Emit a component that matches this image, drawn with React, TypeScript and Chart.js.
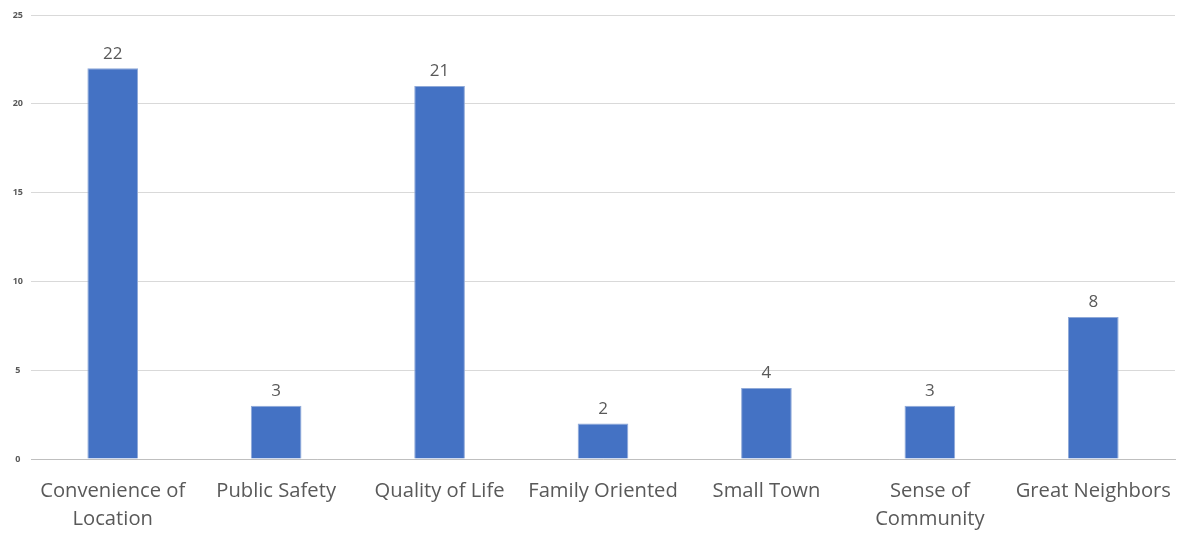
import React, { useEffect, useRef } from "react";
import { Chart, registerables } from "chart.js";

Chart.register(...registerables);

const categories: (string | string[])[] = [
  ["Convenience of", "Location"],
  "Public Safety",
  "Quality of Life",
  "Family Oriented",
  "Small Town",
  ["Sense of", "Community"],
  "Great Neighbors",
];
const values: number[] = [22, 3, 21, 2, 4, 3, 8];
const yTicks: number[] = [0, 5, 10, 15, 20, 25];

const FONT = "'Open Sans', Lato, sans-serif";
const TEXT = "#595959";

const dataLabels = {
  id: "dataLabels",
  afterDatasetsDraw(chart: any) {
    const ctx = chart.ctx;
    const meta = chart.getDatasetMeta(0);
    ctx.save();
    ctx.font = `17px ${FONT}`;
    ctx.fillStyle = TEXT;
    ctx.textAlign = "center";
    ctx.textBaseline = "bottom";
    meta.data.forEach((bar: any, i: number) => {
      ctx.fillText(String(values[i]), bar.x, bar.y - 6);
    });
    ctx.restore();
  },
};

export default function App() {
  const ref = useRef<HTMLCanvasElement | null>(null);
  useEffect(() => {
    if (!ref.current) return;
    const chart = new Chart(ref.current, {
      type: "bar",
      data: {
        labels: categories,
        datasets: [
          {
            data: values,
            backgroundColor: "#4472C4",
            borderColor: "#8fa9d8",
            borderWidth: 1,
            categoryPercentage: 1,
            barPercentage: 0.31,
          },
        ],
      },
      options: {
        responsive: false,
        animation: false,
        layout: { padding: { left: 0, right: 2, top: 15, bottom: 0 } },
        plugins: { legend: { display: false }, tooltip: { enabled: false } },
        scales: {
          x: {
            grid: { display: false, drawTicks: false },
            border: { display: true, color: "#bfbfbf", width: 1 },
            ticks: {
              color: TEXT,
              font: { family: FONT, size: 20.2, lineHeight: 1.38 },
              padding: 18,
              maxRotation: 0,
              autoSkip: false,
            },
            afterFit(axis: any) {
              axis.height = 74;
              axis.paddingLeft = 0;
              axis.paddingRight = 0;
            },
          },
          y: {
            min: 0,
            max: 25,
            afterBuildTicks(axis: any) {
              axis.ticks = yTicks.map((v) => ({ value: v }));
            },
            grid: { color: "#d9d9d9", drawTicks: false },
            border: { display: false },
            ticks: {
              color: TEXT,
              font: { family: FONT, size: 9, weight: "bold" },
              padding: 8,
              crossAlign: "center",
            },
            afterFit(axis: any) {
              axis.width = 31;
            },
          },
        },
      },
      plugins: [dataLabels],
    });
    return () => chart.destroy();
  }, []);
  return (
    <div style={{ position: "absolute", left: 0, top: 0, width: 1177, height: 533, background: "#fff" }}>
      <canvas ref={ref} width={1177} height={533} style={{ display: "block" }} />
    </div>
  );
}
